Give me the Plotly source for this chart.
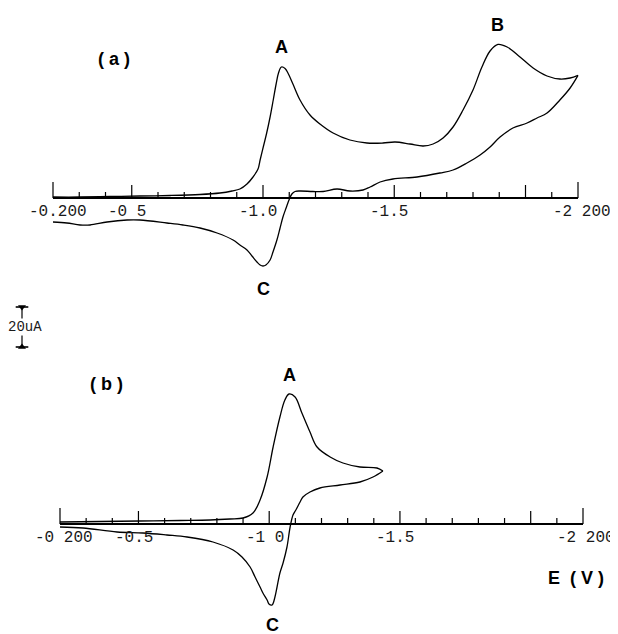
import plotly.graph_objects as go

# ---------------- data (E in V, current in uA, cathodic up) ----------------
# Panel (a): forward scan
A_FWD_E = [-0.200, -0.303, -0.417, -0.531, -0.646, -0.760, -0.836, -0.882, -0.912, -0.939,
           -0.962, -0.981, -0.989, -1.001, -1.014, -1.027, -1.039, -1.050, -1.059, -1.070,
           -1.084, -1.095, -1.114, -1.141, -1.179, -1.217, -1.267, -1.331, -1.396, -1.457,
           -1.503, -1.560, -1.610, -1.648, -1.686, -1.724, -1.762, -1.800, -1.834, -1.865,
           -1.895, -1.930, -1.979, -2.029, -2.082, -2.131, -2.170, -2.200]
A_FWD_I = [0.5, 0.5, 0.75, 1.0, 1.25, 1.75, 2.5, 3.5, 4.5, 7,
           10.5, 14.5, 19, 25.5, 32.5, 40.5, 49, 57, 62.5, 65.5,
           64.8, 62.5, 57, 49, 41.5, 37, 32.5, 29, 27.5, 27.5,
           28, 27, 26, 27, 30, 35.5, 44, 54, 65.5, 73.5,
           76.8, 75.5, 70.5, 65, 61, 59.5, 60, 61.3]
# Panel (a): reverse scan
A_REV_E = [-2.200, -2.170, -2.131, -2.082, -2.044, -2.006, -1.952, -1.903, -1.865, -1.827,
           -1.777, -1.724, -1.674, -1.587, -1.495, -1.446, -1.408, -1.381, -1.331, -1.282,
           -1.229, -1.190, -1.141, -1.122, -1.110, -1.099, -1.088, -1.076, -1.065, -1.053,
           -1.038, -1.027, -1.011, -1.000, -0.989, -0.977, -0.958, -0.939, -0.912, -0.886,
           -0.825, -0.760, -0.695, -0.634, -0.531, -0.482, -0.406, -0.341, -0.303, -0.253,
           -0.200]
A_REV_I = [61.3, 55, 49, 42.5, 40, 37.5, 35, 30.5, 25.5, 21.5,
           17.5, 14, 12.5, 10.5, 9.5, 8, 5.5, 4, 3.5, 4.5,
           3.25, 3.25, 3.5, 3.25, 2, -1, -5, -9.5, -15, -21,
           -27, -31, -33.5, -34, -33.5, -32, -29, -26, -23.5, -21,
           -17.5, -15, -13.5, -12.5, -11, -11, -12, -13.5, -13.5, -12.5,
           -12]

# Panel (b): forward scan
B_FWD_E = [-0.200, -0.353, -0.506, -0.659, -0.774, -0.850, -0.900, -0.938, -0.965, -0.992,
           -1.015, -1.041, -1.060, -1.076, -1.099, -1.125, -1.156, -1.183, -1.233, -1.282,
           -1.347, -1.412, -1.435]
B_FWD_I = [1, 1.25, 1.5, 1.75, 2, 2.5, 3, 5.5, 12, 23.5,
           38.5, 53.5, 62, 65, 63.5, 55.5, 46, 38.5, 33.5, 30.5,
           28.5, 28, 26.5]
# Panel (b): reverse scan
B_REV_E = [-1.435, -1.397, -1.347, -1.271, -1.194, -1.156, -1.129, -1.118, -1.102, -1.091,
           -1.080, -1.068, -1.053, -1.041, -1.030, -1.022, -1.011, -0.999, -0.992, -0.976,
           -0.965, -0.946, -0.927, -0.896, -0.862, -0.785, -0.686, -0.609, -0.517, -0.418,
           -0.288, -0.200]
B_REV_I = [26.5, 23.5, 21, 19.5, 18, 16, 13.5, 11, 7, 4.5,
           -1.5, -11.5, -19.5, -24.5, -31.5, -36.5, -40.5, -40, -38, -34.5,
           -31.5, -26.5, -21.5, -16.5, -13, -9, -6.5, -5.5, -4.5, -4,
           -2, -1.5]

# Axis ticks (V) and labels
TICKS = [-0.2, -0.3, -0.4, -0.5, -0.6, -0.7, -0.8, -0.9, -1.0, -1.1, -1.2,
         -1.3, -1.4, -1.5, -1.6, -1.7, -1.8, -1.9, -2.0, -2.1, -2.2]
LABEL_POS = [-0.2, -0.5, -1.0, -1.5, -2.2]
A_LABELS = ["-0.200", "-0 5", "-1.0", "-1.5", "-2 200"]
B_LABELS = ["-0 200", "-0.5", "-1 0", "-1.5", "-2 200"]
SCALE_UA = 20  # scale bar, uA

# ---------------- figure ----------------
OFF = 8                      # page body margin
W, H = 618 - OFF, 634 - OFF  # figure size so the page fills the window exactly
fig = go.Figure()
LINE = dict(color="black", width=1.3)


def tick_height(t):
    if abs(t - TICKS[0]) < 1e-9 or abs(t - TICKS[-1]) < 1e-9:
        return 8.0
    if abs(round(t / 0.5) * 0.5 - t) < 1e-9:
        return 6.5
    return 3.0


def add_axis(xa, ya):
    fig.add_trace(go.Scatter(x=[TICKS[0], TICKS[-1]], y=[0, 0], mode="lines",
                             line=dict(color="black", width=1.8),
                             xaxis=xa, yaxis=ya, hoverinfo="skip"))
    tx, ty = [], []
    for t in TICKS:
        tx += [t, t, None]
        ty += [0, tick_height(t), None]
    fig.add_trace(go.Scatter(x=tx, y=ty, mode="lines",
                             line=dict(color="black", width=1.2),
                             xaxis=xa, yaxis=ya, hoverinfo="skip"))


add_axis("x", "y")
add_axis("x2", "y2")

for ex, iy in [(A_FWD_E, A_FWD_I), (A_REV_E, A_REV_I)]:
    fig.add_trace(go.Scatter(x=ex, y=iy, mode="lines", line=LINE, line_shape="spline",
                             xaxis="x", yaxis="y"))
for ex, iy in [(B_FWD_E, B_FWD_I), (B_REV_E, B_REV_I)]:
    fig.add_trace(go.Scatter(x=ex, y=iy, mode="lines", line=LINE, line_shape="spline",
                             xaxis="x2", yaxis="y2"))

# scale bar (in panel b coordinates)
SB_X, SB_Y0 = -0.0547, 88.5
fig.add_trace(go.Scatter(x=[SB_X, SB_X], y=[SB_Y0, SB_Y0 + SCALE_UA], mode="lines+markers",
                         line=dict(color="black", width=1.2),
                         marker=dict(symbol=["triangle-up", "triangle-down"], size=7, color="black"),
                         xaxis="x2", yaxis="y2"))
fig.add_trace(go.Scatter(x=[SB_X, SB_X], y=[SB_Y0, SB_Y0 + SCALE_UA], mode="markers",
                         marker=dict(symbol="line-ew", size=9, color="black",
                                     line=dict(color="black", width=1.6)),
                         xaxis="x2", yaxis="y2"))

annos = []
TICK_FONT = dict(family="Liberation Mono", size=16, color="#1a1a1a")
A_SHIFT = [5, -5, -5, -5, 4]
B_SHIFT = [4, -4, -4, -5, 3]
for pos, lab, s in zip(LABEL_POS, A_LABELS, A_SHIFT):
    annos.append(dict(x=pos, y=0, xref="x", yref="y", text=lab, showarrow=False,
                      yanchor="top", xanchor="center", xshift=s, yshift=-3, font=TICK_FONT))
for pos, lab, s in zip(LABEL_POS, B_LABELS, B_SHIFT):
    annos.append(dict(x=pos, y=0, xref="x2", yref="y2", text=lab, showarrow=False,
                      yanchor="top", xanchor="center", xshift=s, yshift=-3, font=TICK_FONT))

BOLD = dict(family="Liberation Sans", size=18, color="black", weight="bold")
for (x, y, t, xr_, yr_) in [(-1.070, 75.5, "A", "x", "y"), (-1.895, 86.5, "B", "x", "y"),
                            (-1.000, -45.5, "C", "x", "y"), (-0.432, 69.5, "(\u00a0a\u00a0)", "x", "y"),
                            (-1.078, 74.5, "A", "x2", "y2"), (-1.011, -50.5, "C", "x2", "y2"),
                            (-0.376, 70, "(\u00a0b\u00a0)", "x2", "y2"),
                            (-2.173, -27, "E\u00a0\u00a0(\u00a0V\u00a0)", "x2", "y2")]:
    annos.append(dict(x=x, y=y, xref=xr_, yref=yr_, text=t, showarrow=False, font=BOLD))

annos.append(dict(x=-0.0662, y=98.5, xref="x2", yref="y2", text="20uA", showarrow=False,
                  bgcolor="white", borderpad=0,
                  font=dict(family="Liberation Mono", size=14, color="#1a1a1a")))


# pixel anchors (window coordinates) -> axis ranges
def xr(p0, ppv):
    p0 -= OFF
    return [-0.2 + p0 / ppv, -0.2 - (W - p0) / ppv]


def yr(z0):
    z0 -= OFF
    return [(z0 - H) / 2, z0 / 2]


fig.update_layout(
    width=W, height=H, autosize=False, showlegend=False,
    margin=dict(l=0, r=0, t=0, b=0, pad=0),
    paper_bgcolor="white", plot_bgcolor="white",
    xaxis=dict(domain=[0, 1], range=xr(53, 262.5), visible=False, fixedrange=True),
    yaxis=dict(domain=[0, 1], range=yr(198), visible=False, fixedrange=True),
    xaxis2=dict(overlaying="x", range=xr(60, 261.5), visible=False, fixedrange=True, anchor="y2"),
    yaxis2=dict(overlaying="y", range=yr(524), visible=False, fixedrange=True, anchor="x2"),
    annotations=annos,
)

fig.write_html("out.html")
